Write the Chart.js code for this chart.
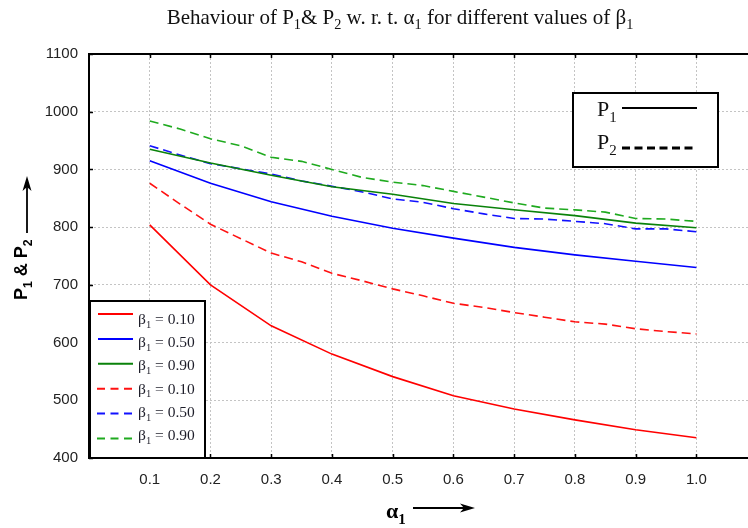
<!DOCTYPE html>
<html>
<head>
<meta charset="utf-8">
<script src="https://cdn.jsdelivr.net/npm/chart.js@4/dist/chart.umd.min.js"></script>
<style>
body{margin:0;background:#fff}
</style>
</head>
<body>
<canvas id="grafico" width="748" height="528"></canvas>
<script>

const alphas = [0.1,0.2,0.3,0.4,0.5,0.6,0.7,0.8,0.9,1.0];
const alphasFinos = [0.1,0.15,0.2,0.25,0.3,0.35,0.4,0.45,0.5,0.55,0.6,0.65,0.7,0.75,0.8,0.85,0.9,0.95,1.0];
const betas = ["0.10","0.50","0.90"];

// P1 (solid)
const p1Beta10 = [804,700,629,580,541,508,485,466,449,435];
const p1Beta50 = [915,876,844,819,798,781,765,752,741,730];
const p1Beta90 = [935,911,890,870,857,841,830,820,807,799];

// P2 (dashed)
const p2Beta10 = [876,840,805,780,755,740,720,707,693,681,668,661,652,644,636,632,624,619,615];
const p2Beta50 = [941,925,910,901,892,880,871,861,849,843,832,823,815,814,810,806,797,797,792];
const p2Beta90 = [984,970,953,941,921,914,900,886,878,872,862,852,842,833,830,826,815,814,810];

const yTicks = [400,500,600,700,800,900,1000,1100];
const xTicks = alphas;

const cores = ["#ff0000","#0000ff","#0a820a"];
const coresP2 = ["#ff1111","#1111ff","#1faa1f"];
const tracejado = [9,5];

const pontos = (xs,ys) => xs.map((x,i)=>({x:x,y:ys[i]}));

const series = [
{data:pontos(alphas,p1Beta10),borderColor:cores[0],borderDash:[],beta:betas[0]},
{data:pontos(alphas,p1Beta50),borderColor:cores[1],borderDash:[],beta:betas[1]},
{data:pontos(alphas,p1Beta90),borderColor:cores[2],borderDash:[],beta:betas[2]},
{data:pontos(alphasFinos,p2Beta10),borderColor:coresP2[0],borderDash:tracejado,beta:betas[0]},
{data:pontos(alphasFinos,p2Beta50),borderColor:coresP2[1],borderDash:tracejado,beta:betas[1]},
{data:pontos(alphasFinos,p2Beta90),borderColor:coresP2[2],borderDash:tracejado,beta:betas[2]}
].map(s=>Object.assign({label:"β₁ = "+s.beta,borderWidth:1.6,pointRadius:0,tension:0,fill:false},s));



// text with subscripts: partes = [[texto, sub?], ...]
function medir(ctx,partes,tam,familia,peso){
let w=0;
partes.forEach(p=>{
ctx.font=peso+" "+(p[1]?tam*0.68:tam)+"px "+familia;
w+=ctx.measureText(p[0]).width;
});
return w;
}

function escrever(ctx,partes,x,y,tam,familia,peso){
let cx=x;
partes.forEach(p=>{
const s=p[1]?tam*0.68:tam;
ctx.font=peso+" "+s+"px "+familia;
ctx.fillText(p[0],cx,p[1]?y+tam*0.25:y);
cx+=ctx.measureText(p[0]).width;
});
}

function seta(ctx,x1,y1,x2,y2){
const ang=Math.atan2(y2-y1,x2-x1);
const len=Math.hypot(x2-x1,y2-y1);
ctx.save();
ctx.translate(x2,y2);
ctx.rotate(ang);
ctx.strokeStyle="#000";
ctx.fillStyle="#000";
ctx.lineWidth=1.8;
ctx.beginPath();ctx.moveTo(-len,0);ctx.lineTo(-9,0);ctx.stroke();
ctx.beginPath();ctx.moveTo(0,0);ctx.lineTo(-15,-4.5);ctx.lineTo(-11,0);ctx.lineTo(-15,4.5);ctx.closePath();ctx.fill();
ctx.restore();
}



const enfeites = {
id:"enfeites",

beforeDatasetsDraw(chart){
const ctx=chart.ctx, a=chart.chartArea, sx=chart.scales.x, sy=chart.scales.y;
ctx.save();
ctx.strokeStyle="#000";
ctx.lineWidth=1.5;
ctx.beginPath();
xTicks.forEach(v=>{
const px=Math.round(sx.getPixelForValue(v))+0.5;
ctx.moveTo(px,a.top);ctx.lineTo(px,a.top+4);
ctx.moveTo(px,a.bottom);ctx.lineTo(px,a.bottom-4);
});
yTicks.forEach(v=>{
const py=Math.round(sy.getPixelForValue(v))+0.5;
ctx.moveTo(a.left,py);ctx.lineTo(a.left+4,py);
});
ctx.stroke();
ctx.lineWidth=2;
ctx.beginPath();ctx.moveTo(a.left-1,a.top);ctx.lineTo(a.right,a.top);ctx.stroke();
ctx.restore();
},

afterDatasetsDraw(chart){
const ctx=chart.ctx;
const serif="'Liberation Serif', 'DejaVu Serif', serif";
ctx.save();

// beta legend, bottom left
ctx.fillStyle="#fff";
ctx.fillRect(90,301,115,157);
ctx.strokeStyle="#000";
ctx.lineWidth=2;
ctx.strokeRect(90,301,115,157);
chart.data.datasets.forEach((ds,i)=>{
const yl=314+i*24.9;
const yt=324+i*23.2;
ctx.strokeStyle=ds.borderColor;
ctx.lineWidth=2;
ctx.setLineDash(ds.borderDash.length?[8,5.5]:[]);
ctx.beginPath();
ctx.moveTo(ds.borderDash.length?97:98,yl);
ctx.lineTo(ds.borderDash.length?132:133,yl);
ctx.stroke();
ctx.setLineDash([]);
ctx.fillStyle="#1e1e2a";
ctx.textBaseline="alphabetic";
escrever(ctx,[["β",0],["1",1],[" = "+ds.beta,0]],138,yt,15.5,serif,"");
});

// P1 / P2 legend, top right
ctx.fillStyle="#fff";
ctx.fillRect(573,93,145,74);
ctx.strokeStyle="#000";
ctx.lineWidth=2;
ctx.strokeRect(573,93,145,74);
ctx.fillStyle="#111";
escrever(ctx,[["P",0],["1",1]],597,116,22,serif,"");
escrever(ctx,[["P",0],["2",1]],597,149,22,serif,"");
ctx.strokeStyle="#000";
ctx.lineWidth=2;
ctx.beginPath();ctx.moveTo(622,108);ctx.lineTo(697,108);ctx.stroke();
ctx.lineWidth=3;
ctx.setLineDash([8,4.5]);
ctx.beginPath();ctx.moveTo(622,148);ctx.lineTo(697,148);ctx.stroke();
ctx.setLineDash([]);
ctx.restore();
},

afterDraw(chart){
const ctx=chart.ctx;
const serif="'Liberation Serif', 'DejaVu Serif', serif";
ctx.save();
ctx.fillStyle="#111";
ctx.textBaseline="alphabetic";

// title
const titulo=[["Behaviour of P",0],["1",1],["& P",0],["2",1],[" w. r. t. α",0],["1",1],[" for different values of β",0],["1",1]];
const wt=medir(ctx,titulo,21,serif,"");
escrever(ctx,titulo,400-wt/2,24,21,serif,"");

// y title, rotated
ctx.fillStyle="#000";
ctx.save();
ctx.translate(27,300);
ctx.rotate(-Math.PI/2);
escrever(ctx,[["P",0],["1",1],[" & P",0],["2",1]],0,0,18,"'Liberation Sans', Arial, sans-serif","bold");
ctx.restore();
seta(ctx,27,233,27,176);

// x title
escrever(ctx,[["α",0],["1",1]],386,518,22,serif,"bold");
seta(ctx,413,508,475,508);

ctx.restore();
}
};



const grafico = new Chart(document.getElementById("grafico"),{
type:"line",
data:{datasets:series},
options:{
responsive:false,
animation:false,
layout:{padding:{top:54,right:0,bottom:0,left:0}},
plugins:{legend:{display:false},tooltip:{enabled:false},title:{display:false}},
scales:{
x:{
type:"linear",
min:0,
max:1.085,
afterBuildTicks:s=>{s.ticks=xTicks.map(v=>({value:v}));},
afterFit:s=>{s.height=70;},
grid:{color:"#c4c4c4",lineWidth:1,drawTicks:false},
border:{display:true,color:"#000",width:2,dash:[2,2]},
ticks:{padding:13,color:"#222",font:{family:"'Liberation Sans', Arial, sans-serif",size:15},callback:v=>v.toFixed(1),maxRotation:0,autoSkip:false}
},
y:{
type:"linear",
min:400,
max:1100,
afterBuildTicks:s=>{s.ticks=yTicks.map(v=>({value:v}));},
afterFit:s=>{s.width=89;},
grid:{color:"#c4c4c4",lineWidth:1,drawTicks:false},
border:{display:true,color:"#000",width:2,dash:[2,2]},
ticks:{padding:11,color:"#222",font:{family:"'Liberation Sans', Arial, sans-serif",size:15},callback:v=>String(v)}
}
}
},
plugins:[enfeites]
});

</script>
</body>
</html>
